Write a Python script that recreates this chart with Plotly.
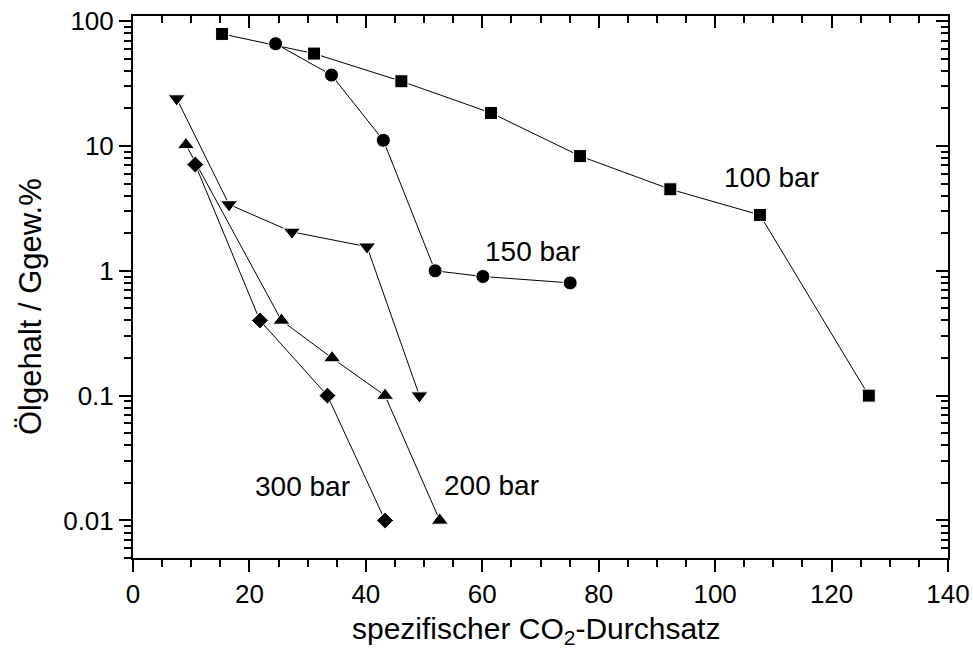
import math
import plotly.graph_objects as go

# Specific CO2 throughput vs. oil content for several extraction pressures
x_100 = [15.3, 31.1, 46.1, 61.5, 76.8, 92.3, 107.7, 126.4]
y_100 = [79, 55, 33, 18.4, 8.3, 4.5, 2.8, 0.1]

x_150 = [24.5, 34.1, 43.0, 51.9, 60.1, 75.1]
y_150 = [66, 37, 11.1, 1.0, 0.9, 0.8]

x_250 = [7.5, 16.5, 27.3, 40.2, 49.2]
y_250 = [24, 3.4, 2.05, 1.56, 0.1]

x_200 = [9.1, 25.5, 34.2, 43.3, 52.7]
y_200 = [10.2, 0.4, 0.2, 0.1, 0.01]

x_300 = [10.7, 21.8, 33.4, 43.3]
y_300 = [7.1, 0.4, 0.1, 0.01]

label_text = ["100 bar", "150 bar", "200 bar", "300 bar"]
label_x = [109.6, 68.7, 61.5, 29.2]
label_y = [5.6, 1.43, 0.0192, 0.0186]

x_ticks = [0, 20, 40, 60, 80, 100, 120, 140]
y_ticks = [0.01, 0.1, 1, 10, 100]
y_ticktext = ["0.01", "0.1", "1", "10", "100"]

x_title = "spezifischer CO<sub>2</sub>-Durchsatz"
y_title = "Ölgehalt / Ggew.%"

FONT = "Liberation Sans, Arial, sans-serif"
Y_RANGE = [math.log10(0.005), math.log10(110)]
y_minor = [m * 10.0 ** e for e in range(-3, 3) for m in range(2, 10)]
y_minor = [v for v in y_minor if 0.005 <= v <= 110]

series = [
    (x_100, y_100, "square", 13),
    (x_150, y_150, "circle", 14),
    (x_250, y_250, "triangle-down", 15),
    (x_200, y_200, "triangle-up", 15),
    (x_300, y_300, "diamond", 13),
]

fig = go.Figure()
for xs, ys, sym, sz in series:
    fig.add_trace(go.Scatter(
        x=xs, y=ys, mode="lines+markers",
        line=dict(color="black", width=1),
        marker=dict(symbol=sym, size=sz, color="black",
                    line=dict(color="white", width=1)),
        showlegend=False, hoverinfo="skip",
    ))

# invisible trace to carry the mirrored top/right axes
fig.add_trace(go.Scatter(x=[None], y=[None], xaxis="x2", yaxis="y2",
                         showlegend=False, hoverinfo="skip"))

# curve labels (annotation y on a log axis is given in log10 units)
for t, lx, ly in zip(label_text, label_x, label_y):
    fig.add_annotation(x=lx, y=math.log10(ly), text=t, showarrow=False,
                       font=dict(family=FONT, size=28, color="black"))

# axis titles
fig.add_annotation(xref="paper", yref="paper", x=0.4945, y=0, yshift=-72,
                   xanchor="center", yanchor="middle", text=x_title,
                   showarrow=False, font=dict(family=FONT, size=30))
fig.add_annotation(xref="paper", yref="paper", x=0, xshift=-103, y=0.463,
                   xanchor="center", yanchor="middle", text=y_title,
                   textangle=-90, showarrow=False,
                   font=dict(family=FONT, size=31))

axis_common = dict(showgrid=False, zeroline=False, showline=True,
                   linecolor="black", linewidth=2, tickcolor="black",
                   tickwidth=2, automargin=False)

fig.update_layout(
    width=973, height=658,
    margin=dict(l=133, r=25, t=16, b=100),
    plot_bgcolor="white", paper_bgcolor="white",
    font=dict(family=FONT, size=26, color="black"),
    xaxis=dict(range=[0, 140], tickvals=x_ticks, ticks="outside", ticklen=12,
               minor=dict(ticks="outside", ticklen=7, dtick=5,
                          tickcolor="black", tickwidth=2),
               tickfont=dict(size=26), **axis_common),
    yaxis=dict(type="log", range=Y_RANGE, tickvals=y_ticks,
               ticktext=y_ticktext, ticks="outside", ticklen=12,
               minor=dict(ticks="outside", ticklen=7, tickvals=y_minor,
                          tickcolor="black", tickwidth=2),
               tickfont=dict(size=26), **axis_common),
    xaxis2=dict(overlaying="x", side="top", range=[0, 140], tickvals=x_ticks,
                ticks="inside", ticklen=12, showticklabels=False,
                minor=dict(ticks="inside", ticklen=7, dtick=5,
                           tickcolor="black", tickwidth=2),
                **axis_common),
    yaxis2=dict(overlaying="y", side="right", type="log",
                range=Y_RANGE, tickvals=y_ticks,
                ticks="inside", ticklen=12, showticklabels=False,
                minor=dict(ticks="inside", ticklen=7, tickvals=y_minor,
                           tickcolor="black", tickwidth=2),
                **axis_common),
)

fig.write_html("out.html")
